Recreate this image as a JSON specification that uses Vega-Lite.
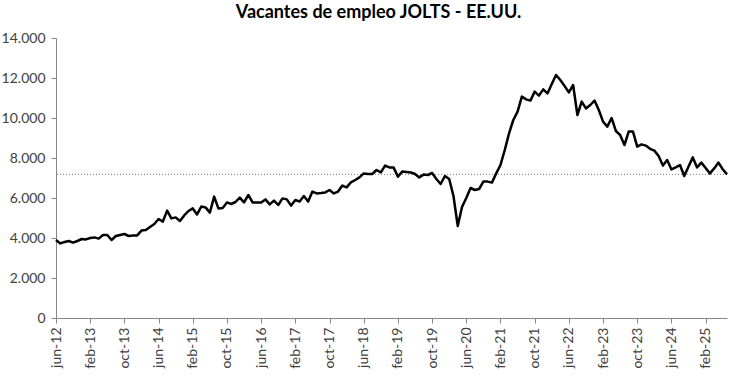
{
  "$schema": "https://vega.github.io/schema/vega-lite/v6.json",
  "width": 671,
  "height": 280,
  "autosize": {"type": "none"},
  "padding": {"left": 56, "top": 38, "right": 10, "bottom": 58},
  "background": "white",
  "title": {
    "text": "Vacantes de empleo JOLTS - EE.UU.",
    "font": "Lato",
    "fontSize": 18,
    "fontWeight": "bold",
    "color": "#000000",
    "anchor": "middle",
    "dx": -13,
    "offset": 9
  },
  "data": {
    "values": [
      {"mes":"jun-12","v":3900},{"mes":"jul-12","v":3730},{"mes":"ago-12","v":3800},{"mes":"sep-12","v":3850},{"mes":"oct-12","v":3770},{"mes":"nov-12","v":3850},{"mes":"dic-12","v":3950},
      {"mes":"ene-13","v":3930},{"mes":"feb-13","v":4000},{"mes":"mar-13","v":4030},{"mes":"abr-13","v":3970},{"mes":"may-13","v":4150},{"mes":"jun-13","v":4150},{"mes":"jul-13","v":3900},{"mes":"ago-13","v":4100},{"mes":"sep-13","v":4150},{"mes":"oct-13","v":4200},{"mes":"nov-13","v":4100},{"mes":"dic-13","v":4120},
      {"mes":"ene-14","v":4130},{"mes":"feb-14","v":4370},{"mes":"mar-14","v":4400},{"mes":"abr-14","v":4550},{"mes":"may-14","v":4700},{"mes":"jun-14","v":4950},{"mes":"jul-14","v":4820},{"mes":"ago-14","v":5370},{"mes":"sep-14","v":4980},{"mes":"oct-14","v":5030},{"mes":"nov-14","v":4850},{"mes":"dic-14","v":5130},
      {"mes":"ene-15","v":5350},{"mes":"feb-15","v":5480},{"mes":"mar-15","v":5180},{"mes":"abr-15","v":5570},{"mes":"may-15","v":5530},{"mes":"jun-15","v":5270},{"mes":"jul-15","v":6070},{"mes":"ago-15","v":5480},{"mes":"sep-15","v":5500},{"mes":"oct-15","v":5780},{"mes":"nov-15","v":5700},{"mes":"dic-15","v":5800},
      {"mes":"ene-16","v":6020},{"mes":"feb-16","v":5780},{"mes":"mar-16","v":6150},{"mes":"abr-16","v":5780},{"mes":"may-16","v":5780},{"mes":"jun-16","v":5780},{"mes":"jul-16","v":5930},{"mes":"ago-16","v":5680},{"mes":"sep-16","v":5870},{"mes":"oct-16","v":5650},{"mes":"nov-16","v":5980},{"mes":"dic-16","v":5930},
      {"mes":"ene-17","v":5620},{"mes":"feb-17","v":5900},{"mes":"mar-17","v":5820},{"mes":"abr-17","v":6100},{"mes":"may-17","v":5820},{"mes":"jun-17","v":6320},{"mes":"jul-17","v":6230},{"mes":"ago-17","v":6250},{"mes":"sep-17","v":6280},{"mes":"oct-17","v":6400},{"mes":"nov-17","v":6230},{"mes":"dic-17","v":6320},
      {"mes":"ene-18","v":6620},{"mes":"feb-18","v":6530},{"mes":"mar-18","v":6780},{"mes":"abr-18","v":6900},{"mes":"may-18","v":7030},{"mes":"jun-18","v":7230},{"mes":"jul-18","v":7200},{"mes":"ago-18","v":7200},{"mes":"sep-18","v":7400},{"mes":"oct-18","v":7280},{"mes":"nov-18","v":7620},{"mes":"dic-18","v":7530},
      {"mes":"ene-19","v":7520},{"mes":"feb-19","v":7070},{"mes":"mar-19","v":7320},{"mes":"abr-19","v":7300},{"mes":"may-19","v":7280},{"mes":"jun-19","v":7200},{"mes":"jul-19","v":7030},{"mes":"ago-19","v":7170},{"mes":"sep-19","v":7150},{"mes":"oct-19","v":7250},{"mes":"nov-19","v":6950},{"mes":"dic-19","v":6700},
      {"mes":"ene-20","v":7100},{"mes":"feb-20","v":6950},{"mes":"mar-20","v":6100},{"mes":"abr-20","v":4600},{"mes":"may-20","v":5550},{"mes":"jun-20","v":6000},{"mes":"jul-20","v":6500},{"mes":"ago-20","v":6400},{"mes":"sep-20","v":6450},{"mes":"oct-20","v":6820},{"mes":"nov-20","v":6820},{"mes":"dic-20","v":6770},
      {"mes":"ene-21","v":7230},{"mes":"feb-21","v":7650},{"mes":"mar-21","v":8400},{"mes":"abr-21","v":9230},{"mes":"may-21","v":9900},{"mes":"jun-21","v":10320},{"mes":"jul-21","v":11070},{"mes":"ago-21","v":10930},{"mes":"sep-21","v":10870},{"mes":"oct-21","v":11320},{"mes":"nov-21","v":11120},{"mes":"dic-21","v":11430},
      {"mes":"ene-22","v":11230},{"mes":"feb-22","v":11700},{"mes":"mar-22","v":12150},{"mes":"abr-22","v":11900},{"mes":"may-22","v":11600},{"mes":"jun-22","v":11280},{"mes":"jul-22","v":11650},{"mes":"ago-22","v":10150},{"mes":"sep-22","v":10820},{"mes":"oct-22","v":10480},{"mes":"nov-22","v":10650},{"mes":"dic-22","v":10870},
      {"mes":"ene-23","v":10400},{"mes":"feb-23","v":9820},{"mes":"mar-23","v":9570},{"mes":"abr-23","v":10000},{"mes":"may-23","v":9350},{"mes":"jun-23","v":9150},{"mes":"jul-23","v":8650},{"mes":"ago-23","v":9320},{"mes":"sep-23","v":9320},{"mes":"oct-23","v":8570},{"mes":"nov-23","v":8680},{"mes":"dic-23","v":8620},
      {"mes":"ene-24","v":8460},{"mes":"feb-24","v":8370},{"mes":"mar-24","v":8100},{"mes":"abr-24","v":7620},{"mes":"may-24","v":7900},{"mes":"jun-24","v":7430},{"mes":"jul-24","v":7530},{"mes":"ago-24","v":7650},{"mes":"sep-24","v":7100},{"mes":"oct-24","v":7570},{"mes":"nov-24","v":8030},{"mes":"dic-24","v":7530},
      {"mes":"ene-25","v":7770},{"mes":"feb-25","v":7500},{"mes":"mar-25","v":7230},{"mes":"abr-25","v":7480},{"mes":"may-25","v":7770},{"mes":"jun-25","v":7440},{"mes":"jul-25","v":7181}
    ]
  },
  "encoding": {
    "y": {
      "field": "v",
      "type": "quantitative",
      "scale": {"domain": [0, 14000], "nice": false},
      "axis": {
        "title": null,
        "values": [0, 2000, 4000, 6000, 8000, 10000, 12000, 14000],
        "labelExpr": "replace(format(datum.value, ','), ',', '.')",
        "labelFont": "Lato",
        "labelFontSize": 14,
        "labelColor": "#404040",
        "labelPadding": 6,
        "labelOverlap": false,
        "labelBound": false,
        "labelFlush": false,
        "tickSize": 5,
        "tickColor": "#868686",
        "domainColor": "#868686",
        "grid": false
      }
    }
  },
  "layer": [
    {
      "transform": [{"filter": "datum.mes == 'jul-25'"}],
      "mark": {"type": "rule", "color": "#808080", "strokeWidth": 1, "strokeDash": [1, 2]},
      "encoding": {}
    },
    {
      "mark": {"type": "line", "color": "#000000", "strokeWidth": 2.5, "strokeJoin": "round"},
      "encoding": {
        "x": {
          "field": "mes",
          "type": "ordinal",
          "sort": null,
          "scale": {"type": "point", "padding": 0},
          "axis": {
            "title": null,
            "values": ["jun-12","feb-13","oct-13","jun-14","feb-15","oct-15","jun-16","feb-17","oct-17","jun-18","feb-19","oct-19","jun-20","feb-21","oct-21","jun-22","feb-23","oct-23","jun-24","feb-25"],
            "labelAngle": 270,
            "labelAlign": "right",
            "labelBaseline": "middle",
            "labelFont": "Lato",
            "labelFontSize": 14,
            "labelColor": "#404040",
            "labelPadding": 4,
            "labelOverlap": false,
            "tickSize": 5,
            "tickColor": "#868686",
            "domainColor": "#868686",
            "grid": false
          }
        }
      }
    }
  ],
  "config": {
    "view": {"stroke": null}
  }
}
